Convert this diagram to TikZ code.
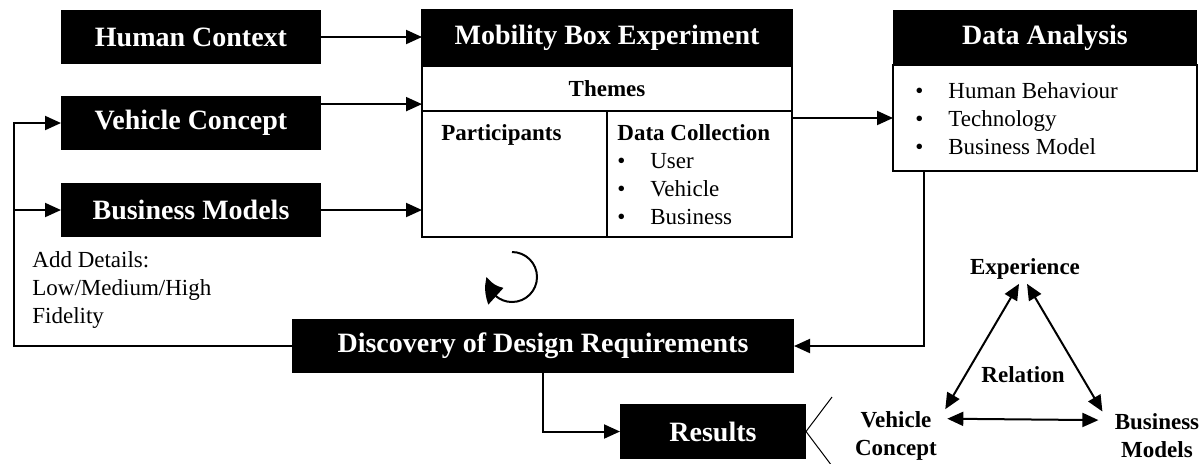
\documentclass[tikz,border=0pt]{standalone}
\usepackage{fontspec}
\setmainfont{Liberation Serif}
\usetikzlibrary{arrows.meta, positioning, calc, bending}

\newcommand{\hdrfont}{\fontsize{14}{16}\selectfont\bfseries}
\newcommand{\txtfont}{\fontsize{11.5}{14}\selectfont}
\newcommand{\bitem}[1]{\makebox[16.5pt][l]{\textbullet}#1}

\tikzset{
  hdr/.style={fill=black, text=white, font=\hdrfont, inner sep=0pt, outer sep=0pt},
  cell/.style={draw, line width=0.8pt, inner sep=0pt, outer sep=0pt},
  txt/.style={font=\txtfont, inner sep=0pt, align=left},
  lbl/.style={font=\txtfont\bfseries, inner sep=2pt, align=center},
  arr/.style={line width=1pt, -{Triangle[length=8pt,width=7pt]}},
  dbl/.style={line width=1pt, {Triangle[length=8pt,width=7pt]}-{Triangle[length=8pt,width=7pt]}},
}

\begin{document}
\begin{tikzpicture}[x=0.5pt, y=-0.5pt]
  \useasboundingbox (0,0) rectangle (1203,463);

  % Input boxes on the left
  \node[hdr, minimum width=130pt, minimum height=27pt] (hc) at (191,37) {Human Context};
  \node[hdr, minimum width=130pt, minimum height=27pt] (vc) at (191,123) {Vehicle Concept};
  \node[hdr, minimum width=130pt, minimum height=27pt] (bm) at (191,210) {Business Models};

  % Mobility box experiment
  \node[hdr, draw, line width=0.8pt, minimum width=185pt, minimum height=28pt] (mbe) at (607,38) {Mobility Box Experiment};
  \node[cell, minimum width=185pt, minimum height=22.5pt, font=\txtfont\bfseries, below=0pt of mbe] (themes) {Themes};
  \node[cell, minimum width=92.5pt, minimum height=63pt, below right=0pt and 0pt of themes.south west, anchor=north west] (part) {};
  \node[cell, minimum width=92.5pt, minimum height=63pt, right=0pt of part] (dcol) {};
  \node[txt, font=\txtfont\bfseries, anchor=north west] (pttxt) at ($(part.north west)+(19,13)$) {Participants};
  \node[txt, anchor=north west] (dctxt) at ($(dcol.north west)+(10,13)$)
    {\textbf{Data Collection}\\ \bitem{User}\\ \bitem{Vehicle}\\ \bitem{Business}};

  % Data analysis
  \node[hdr, minimum width=152pt, minimum height=27.5pt] (da) at (1045,37.5) {Data Analysis};
  \node[cell, minimum width=152pt, minimum height=53pt, below=0pt of da] (dabody) {};
  \node[txt, anchor=north west] (datxt) at ($(dabody.north west)+(22,17)$)
    {\bitem{Human Behaviour}\\ \bitem{Technology}\\ \bitem{Business Model}};

  % Discovery and results
  \node[hdr, minimum width=251pt, minimum height=27pt] (ddr) at (543,346) {Discovery of Design Requirements};
  \node[hdr, minimum width=93pt, minimum height=27.5pt] (res) at (713,431.5) {Results};

  \node[txt, anchor=north west] (add) at (32,251) {Add Details:\\Low/Medium/High\\Fidelity};

  % Connectors
  \coordinate (lp) at (14,0);
  \draw[arr] (hc.east) -- (hc.east -| mbe.west);
  \draw[arr] ($(vc.north east)!0.15!(vc.south east)$) coordinate (vcout) -- (vcout -| themes.west);
  \draw[arr] (bm.east) -- (bm.east -| part.west);
  \draw[arr] (dabody.west -| dcol.east) -- (dabody.west);
  \draw[arr] ($(dabody.south west)+(31,0)$) |- (ddr.east);
  \draw[arr] (ddr.west) -- (ddr.west -| lp) |- (vc.west);
  \draw[arr] (bm.west -| lp) -- (bm.west);
  \draw[arr] (ddr.south) |- (res.west);

  % Iteration arrow
  \coordinate (cyc) at (512,277);
  \draw[line width=1pt, -{Triangle[length=11pt,width=11pt,bend]}]
    ([shift={(90:12.5pt)}]cyc) arc[start angle=90, end angle=-180, radius=12.5pt];

  % Callout lines
  \coordinate (cu) at (832,397);
  \coordinate (cd) at (832,466);
  \draw[line width=0.5pt] (cu) -- (res.east) -- (cd);

  % Relation triangle
  \node[lbl] (exp) at (1025,269) {Experience};
  \node[lbl] (veh) at (896,436) {Vehicle\\Concept};
  \node[lbl] (bus) at (1157,436) {Business\\Models};
  \node[lbl] (rel) at (1023,375) {Relation};
  \draw[dbl] ([xshift=-3pt]exp.south) -- ($(veh.north east)+(4,2)$);
  \draw[dbl] ([xshift=1pt]exp.south) -- ($(bus.north west)+(-8,2)$);
  \draw[dbl] ($(veh.north east)!0.2!(veh.south east)+(6,0)$) -- ($(bus.north west)!0.2!(bus.south west)+(-12,0)$);
\end{tikzpicture}
\end{document}
